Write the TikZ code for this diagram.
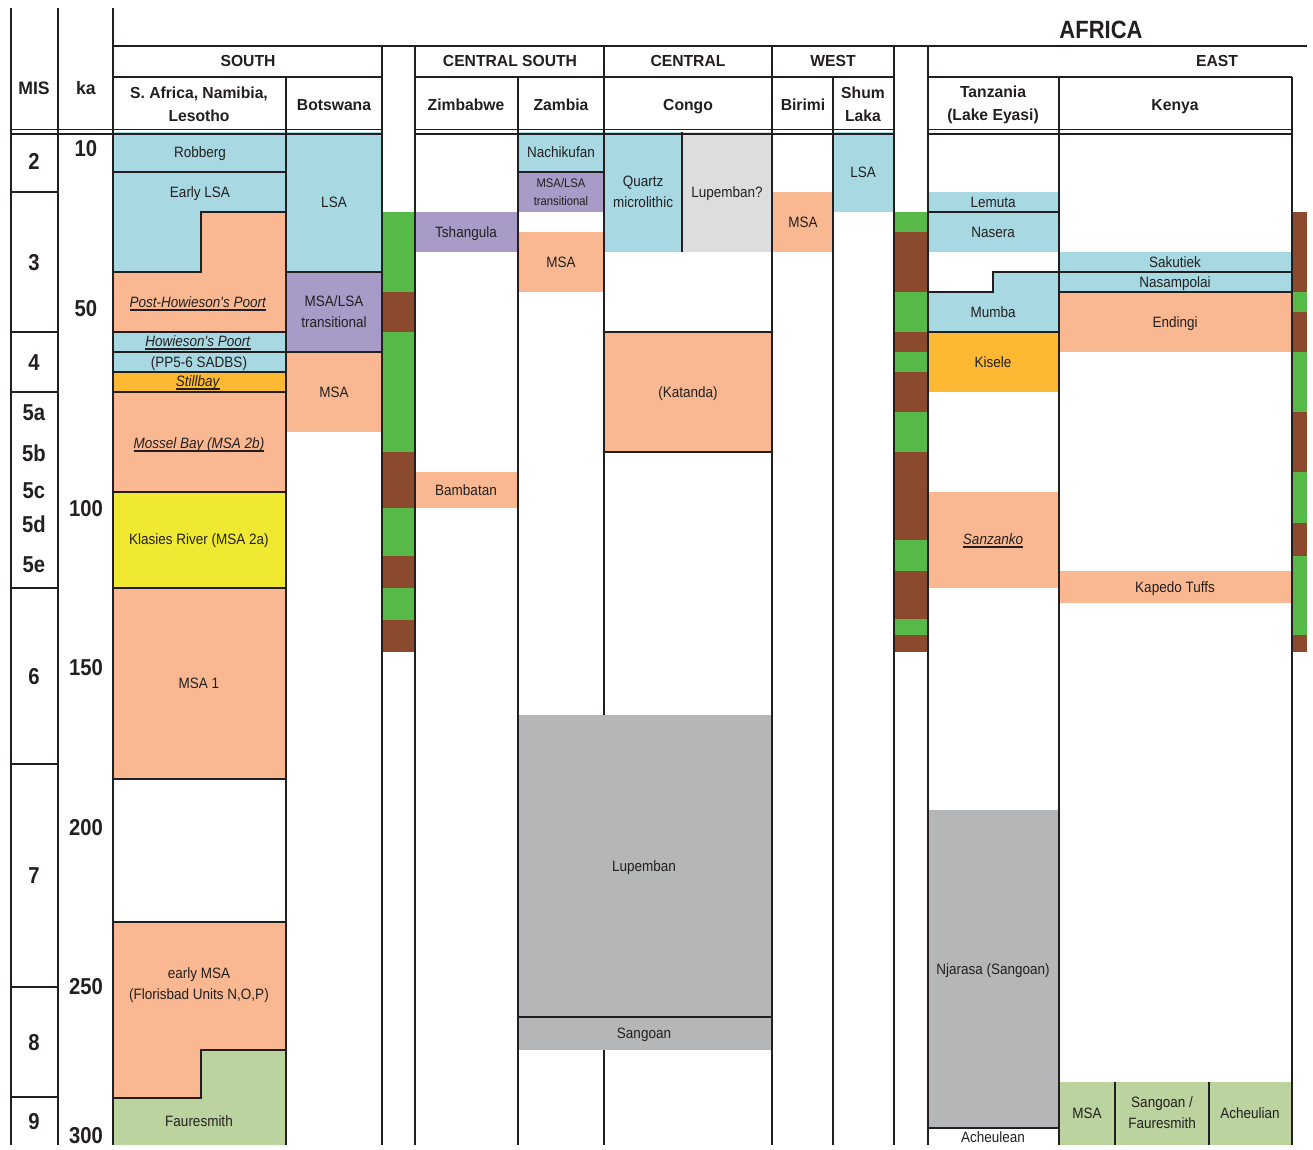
\documentclass[tikz,border=0pt]{standalone}
\usepackage{fontspec}
\setmainfont{Liberation Sans}
\newfontfamily\nrw{Liberation Sans}[FakeStretch=0.9]
\newfontfamily\hbw{Liberation Sans}[FakeStretch=0.98]
\newfontfamily\nbw{Liberation Sans}[FakeStretch=0.88]
\definecolor{ink}{RGB}{35,31,32}
\definecolor{cblue}{RGB}{168,216,225}
\definecolor{csal}{RGB}{249,184,145}
\definecolor{cpur}{RGB}{168,155,199}
\definecolor{corg}{RGB}{253,185,51}
\definecolor{cyel}{RGB}{240,233,50}
\definecolor{cfau}{RGB}{187,211,159}
\definecolor{cgry}{RGB}{181,182,184}
\definecolor{clgr}{RGB}{221,221,221}
\definecolor{cgrn}{RGB}{87,185,71}
\definecolor{cbrn}{RGB}{139,74,46}
\newsavebox\iubox
\newcommand\iu[1]{\sbox\iubox{\textit{#1}}\rlap{\rule[-3.4pt]{\wd\iubox}{1.7pt}}\usebox\iubox}
\tikzset{
  col/.style={draw=ink,line width=1.8pt},
  cthin/.style={draw=ink,line width=1.1pt},
  edge/.style={draw=ink,line width=2.4pt},
  lbl/.style={font=\nrw\fontsize{15}{17}\selectfont,text=ink,inner sep=0pt,text height=10.7pt,text depth=0pt},
  lbltwo/.style={font=\nrw\fontsize{15}{21}\selectfont,text=ink,inner sep=0pt,align=center},
  smtwo/.style={font=\nrw\fontsize{12.5}{18}\selectfont,text=ink,inner sep=0pt,align=center},
  hd/.style={font=\hbw\bfseries\fontsize{16}{23}\selectfont,text=ink,inner sep=0pt,align=center},
  hdone/.style={font=\hbw\bfseries\fontsize{16}{23}\selectfont,text=ink,inner sep=0pt,text height=11.5pt,text depth=0pt},
  hdbig/.style={font=\hbw\bfseries\fontsize{18}{23}\selectfont,text=ink,inner sep=0pt,text height=13pt,text depth=0pt},
  num/.style={font=\nbw\bfseries\fontsize{23}{25}\selectfont,text=ink,inner sep=0pt,text height=16.5pt,text depth=0pt},
  ttl/.style={font=\nbw\bfseries\fontsize{25}{28}\selectfont,text=ink,inner sep=0pt,text height=18pt,text depth=0pt}
}
\begin{document}
\begin{tikzpicture}[x=1pt,y=-1pt]
\useasboundingbox (0,0) rectangle (1313,1149);
% ---------- fills: South Africa ----------
\fill[cblue] (113,132) rectangle (286,172);
\fill[cblue] (113,172) -- (286,172) -- (286,212) -- (201,212) -- (201,272) -- (113,272) -- cycle;
\fill[csal] (113,272) -- (201,272) -- (201,212) -- (286,212) -- (286,332) -- (113,332) -- cycle;
\fill[cblue] (113,332) rectangle (286,372);
\fill[corg] (113,372) rectangle (286,392);
\fill[csal] (113,392) rectangle (286,492);
\fill[cyel] (113,492) rectangle (286,588);
\fill[csal] (113,588) rectangle (286,779);
\fill[csal] (113,922) -- (286,922) -- (286,1050) -- (201,1050) -- (201,1098) -- (113,1098) -- cycle;
\fill[cfau] (113,1098) -- (201,1098) -- (201,1050) -- (286,1050) -- (286,1145) -- (113,1145) -- cycle;
% Botswana
\fill[cblue] (286,132) rectangle (382,272);
\fill[cpur] (286,272) rectangle (382,352);
\fill[csal] (286,352) rectangle (382,432);
% Zimbabwe
\fill[cpur] (415,212) rectangle (518,252);
\fill[csal] (415,472) rectangle (518,508);
% Zambia
\fill[cblue] (518,132) rectangle (604,172);
\fill[cpur] (518,172) rectangle (604,212);
\fill[csal] (518,232) rectangle (604,292);
\fill[cgry] (518,715) rectangle (772,1050);
% Congo
\fill[cblue] (604,132) rectangle (682,252);
\fill[clgr] (682,132) rectangle (772,252);
\fill[csal] (604,332) rectangle (772,452);
% West
\fill[csal] (772,192) rectangle (833,252);
\fill[cblue] (833,132) rectangle (894,212);
% Tanzania
\fill[cblue] (928,192) rectangle (1059,252);
\fill[cblue] (928,292) -- (993,292) -- (993,272) -- (1059,272) -- (1059,332) -- (928,332) -- cycle;
\fill[corg] (928,332) rectangle (1059,392);
\fill[csal] (928,492) rectangle (1059,588);
\fill[cgry] (928,810) rectangle (1059,1128);
% Kenya
\fill[cblue] (1059,252) rectangle (1292,292);
\fill[csal] (1059,292) rectangle (1292,352);
\fill[csal] (1059,571) rectangle (1292,603);
\fill[cfau] (1059,1082) rectangle (1292,1145);
% ---------- climate bars ----------
\foreach \ya/\yb/\cc in {212/292/cgrn,292/332/cbrn,332/452/cgrn,452/508/cbrn,508/556/cgrn,556/588/cbrn,588/620/cgrn,620/652/cbrn}
  \fill[\cc] (382,\ya) rectangle (415,\yb);
\foreach \ya/\yb/\cc in {212/232/cgrn,232/292/cbrn,292/332/cgrn,332/352/cbrn,352/372/cgrn,372/412/cbrn,412/452/cgrn,452/540/cbrn,540/571/cgrn,571/619/cbrn,619/635/cgrn,635/652/cbrn}
  \fill[\cc] (894,\ya) rectangle (928,\yb);
\foreach \ya/\yb/\cc in {212/292/cbrn,292/312/cgrn,312/352/cbrn,352/412/cgrn,412/472/cbrn,472/523/cgrn,523/556/cbrn,556/635/cgrn,635/652/cbrn}
  \fill[\cc] (1292,\ya) rectangle (1307,\yb);
% ---------- column lines ----------
\draw[col] (11,8) -- (11,1145);
\draw[cthin] (58,8) -- (58,1145);
\draw[col,line width=2.2pt] (113,8) -- (113,1145);
\draw[col] (286,77) -- (286,1145);
\draw[col] (382,46) -- (382,1145);
\draw[col] (415,46) -- (415,1145);
\draw[col] (518,77) -- (518,1145);
\draw[col] (604,46) -- (604,715);
\draw[col] (604,1050) -- (604,1145);
\draw[col] (772,46) -- (772,1145);
\draw[cthin] (833,77) -- (833,1145);
\draw[col] (894,46) -- (894,1145);
\draw[col,line width=2.2pt] (928,46) -- (928,1145);
\draw[cthin] (1059,77) -- (1059,1145);
\draw[col] (1292,77) -- (1292,1145);
% header lines
\draw[col] (113,46) -- (1307,46);
\draw[col] (113,77) -- (382,77);
\draw[col] (415,77) -- (894,77);
\draw[col] (928,77) -- (1292,77);
\foreach \xa/\xb in {11/382,415/894,928/1292}{
  \draw[draw=ink,line width=1.3pt] (\xa,129.8) -- (\xb,129.8);
  \draw[draw=ink,line width=2.2pt] (\xa,133.6) -- (\xb,133.6);
}
% MIS separators
\foreach \yy in {192,332,392,588,764,987,1097}
  \draw[cthin] (11,\yy) -- (58,\yy);
% ---------- box edges ----------
\draw[edge] (113,172) -- (286,172);
\draw[edge] (113,272) -- (201,272) -- (201,212) -- (286,212);
\foreach \yy in {332,352,372,392,492,588,779,922}
  \draw[edge] (113,\yy) -- (286,\yy);
\draw[edge] (113,1098) -- (201,1098) -- (201,1050) -- (286,1050);
\draw[edge] (286,272) -- (382,272);
\draw[edge] (286,352) -- (382,352);
\draw[edge] (518,172) -- (604,172);
\draw[edge] (682,132) -- (682,252);
\draw[edge] (604,332) -- (772,332);
\draw[edge] (604,452) -- (772,452);
\draw[cthin,line width=1.5pt] (518,1017) -- (772,1017);
\draw[edge] (928,212) -- (1059,212);
\draw[edge] (928,292) -- (993,292) -- (993,272) -- (1059,272);
\draw[edge] (928,332) -- (1059,332);
\draw[edge] (928,1128) -- (1059,1128);
\draw[edge] (1059,192) -- (1059,392);
\draw[edge] (1059,492) -- (1059,603);
\draw[edge] (1059,272) -- (1292,272);
\draw[edge] (1059,292) -- (1292,292);
\draw[edge] (1292,571) -- (1292,603);
\draw[cthin,line width=1.5pt] (1115,1082) -- (1115,1145);
\draw[cthin,line width=1.5pt] (1209,1082) -- (1209,1145);
% ---------- header text ----------
\node[ttl] (africa) at (1101,29) {AFRICA};
\node[hdbig] (mis) at (34,88) {MIS};
\node[hdbig] (ka) at (86,88) {ka};
\node[hdone] (south) at (248,61) {SOUTH};
\node[hdone] (csouth) at (510,61) {CENTRAL SOUTH};
\node[hdone] (central) at (688,61) {CENTRAL};
\node[hdone] (west) at (833,61) {WEST};
\node[hdone] (east) at (1217,61) {EAST};
\node[hd] (safr) at (199,104.5) {S. Africa, Namibia,\\Lesotho};
\node[hdone] (bots) at (334,105) {Botswana};
\node[hdone] (zimb) at (466,105) {Zimbabwe};
\node[hdone] (zamb) at (561,105) {Zambia};
\node[hdone] (congo) at (688,105) {Congo};
\node[hdone] (birimi) at (803,105) {Birimi};
\node[hd] (shum) at (863,104.5) {Shum\\Laka};
\node[hd] (tanz) at (993,104.5) {Tanzania\\(Lake Eyasi)};
\node[hdone] (kenya) at (1175,105) {Kenya};
% ---------- MIS and ka numbers ----------
\node[num] (m2) at (34,161) {2};
\node[num] (m3) at (34,262) {3};
\node[num] (m4) at (34,362) {4};
\node[num] (m5a) at (34,412) {5a};
\node[num] (m5b) at (34,453) {5b};
\node[num] (m5c) at (34,490) {5c};
\node[num] (m5d) at (34,524) {5d};
\node[num] (m5e) at (34,564) {5e};
\node[num] (m6) at (34,676) {6};
\node[num] (m7) at (34,875) {7};
\node[num] (m8) at (34,1042) {8};
\node[num] (m9) at (34,1121) {9};
\node[num] (k10) at (86,148) {10};
\node[num] (k50) at (86,308) {50};
\node[num] (k100) at (86,508) {100};
\node[num] (k150) at (86,667) {150};
\node[num] (k200) at (86,827) {200};
\node[num] (k250) at (86,986) {250};
\node[num] (k300) at (86,1135) {300};
% ---------- labels ----------
\node[lbl] (robberg) at (200,152) {Robberg};
\node[lbl] (elsa) at (200,192) {Early LSA};
\node[lbl] (phpoort) at (198,302) {\iu{Post-Howieson's Poort}};
\node[lbl] (hpoort) at (198,341) {\iu{Howieson's Poort}};
\node[lbl] (pp56) at (199,362) {(PP5-6 SADBS)};
\node[lbl] (stillbay) at (198,381) {\iu{Stillbay}};
\node[lbl] (mossel) at (199,443) {\iu{Mossel Bay (MSA 2b)}};
\node[lbl] (klasies) at (199,539) {Klasies River (MSA 2a)};
\node[lbl] (msa1) at (199,683) {MSA 1};
\node[lbltwo] (emsa) at (199,985.5) {early MSA\\(Florisbad Units N,O,P)};
\node[lbl] (fauresmith) at (199,1121) {Fauresmith};
\node[lbl] (blsa) at (334,202) {LSA};
\node[lbltwo] (btrans) at (334,311.5) {MSA/LSA\\transitional};
\node[lbl] (bmsa) at (334,392) {MSA};
\node[lbl] (tshang) at (466,232) {Tshangula};
\node[lbl] (bamb) at (466,490) {Bambatan};
\node[lbl] (nachi) at (561,152) {Nachikufan};
\node[smtwo] (ztrans) at (561,192) {MSA/LSA\\transitional};
\node[lbl] (zmsa) at (561,262) {MSA};
\node[lbltwo] (quartz) at (643,191.5) {Quartz\\microlithic};
\node[lbl] (lupq) at (727,192) {Lupemban?};
\node[lbl] (katanda) at (688,392) {(Katanda)};
\node[lbl] (lupemban) at (644,866) {Lupemban};
\node[lbl] (sangoan) at (644,1033) {Sangoan};
\node[lbl] (birmsa) at (803,222) {MSA};
\node[lbl] (shumlsa) at (863,172) {LSA};
\node[lbl] (lemuta) at (993,202) {Lemuta};
\node[lbl] (nasera) at (993,232) {Nasera};
\node[lbl] (mumba) at (993,312) {Mumba};
\node[lbl] (kisele) at (993,362) {Kisele};
\node[lbl] (sanzanko) at (993,539) {\iu{Sanzanko}};
\node[lbl] (njarasa) at (993,969) {Njarasa (Sangoan)};
\node[lbl] (acheulean) at (993,1137) {Acheulean};
\node[lbl] (sakutiek) at (1175,262) {Sakutiek};
\node[lbl] (nasamp) at (1175,282) {Nasampolai};
\node[lbl] (endingi) at (1175,322) {Endingi};
\node[lbl] (kapedo) at (1175,587) {Kapedo Tuffs};
\node[lbl] (kmsa) at (1087,1113) {MSA};
\node[lbltwo] (ksang) at (1162,1112.5) {Sangoan /\\Fauresmith};
\node[lbl] (kach) at (1250,1113) {Acheulian};
\end{tikzpicture}
\end{document}
